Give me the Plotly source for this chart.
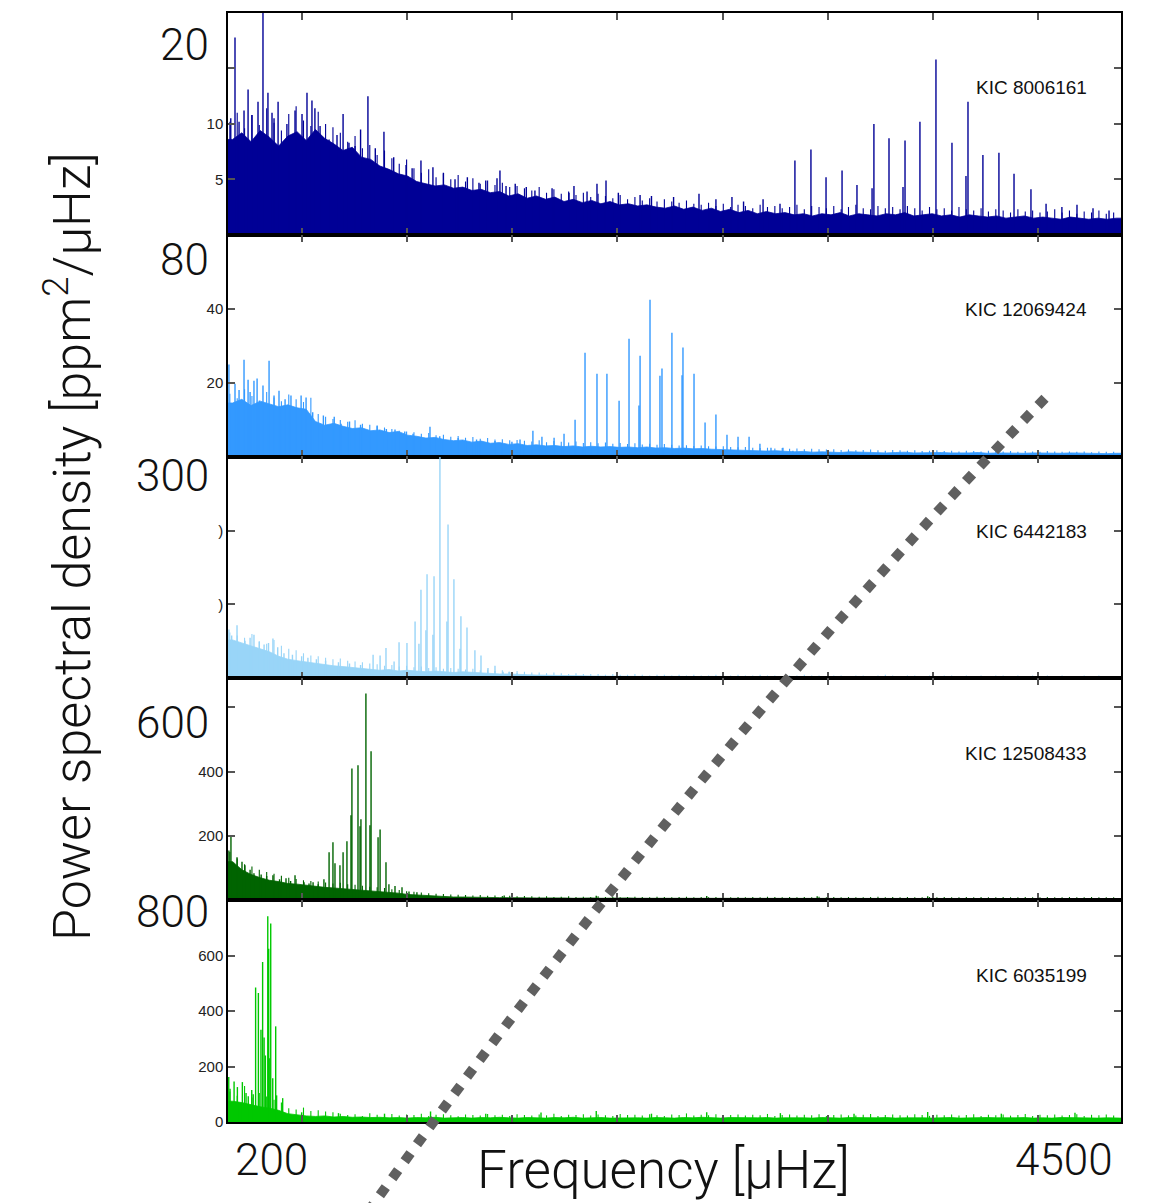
import plotly.graph_objects as go

# ---------------- data ----------------
F_MAX = 4850                   # µHz, right edge of the frequency axis
BIN_START, BIN_STEP = 25, 50   # smooth background sampled every 50 µHz
GRASS_START, GRASS_STEP = 10, 40  # noise spikes sampled every 40 µHz

star_names = ["KIC 8006161", "KIC 12069424", "KIC 6442183", "KIC 12508433", "KIC 6035199"]
colors = ["#000096", "#3399FF", "#99D5F8", "#006400", "#00C800"]
y_max = [20, 60, 300, 690, 800]
y_tickvals = [[5, 10], [20, 40], [100, 200], [200, 400], [0, 200, 400, 600]]
y_ticktext = [["5", "10"], ["20", "40"], [")", ")"], ["200", "400"], ["0", "200", "400", "600"]]
y_extra_ticks = [[15], [], [], [600], []]
big_labels = ["20", "80", "300", "600", "800"]
x_labels = [200, 4500]

bg_8006161 = [8.6, 9.2, 8.4, 9.4, 8.8, 8.0, 8.9, 9.3, 8.5, 9.5, 8.7, 8.2, 7.6, 7.9, 7.0, 6.8, 6.2, 5.9, 5.5, 5.3,
              4.8, 4.6, 4.4, 4.5, 4.2, 4.3, 4.0, 4.1, 3.8, 3.9, 3.5, 3.7, 3.3, 3.5, 3.2, 3.4, 3.0, 3.2, 2.9, 3.1,
              2.8, 3.0, 2.7, 2.8, 2.6, 2.7, 2.5, 2.4, 2.6, 2.3, 2.5, 2.2, 2.4, 2.1, 2.3, 2.0, 2.2, 1.9, 2.1, 1.9,
              2.0, 1.8, 1.9, 1.7, 1.9, 1.8, 2.0, 1.7, 1.9, 1.8, 1.7, 1.9, 1.8, 2.0, 1.7, 1.8, 1.9, 1.7, 1.8, 1.6,
              1.8, 1.7, 1.6, 1.7, 1.5, 1.6, 1.7, 1.5, 1.6, 1.5, 1.4, 1.6, 1.5, 1.4, 1.5, 1.4, 1.5]
bg_12069424 = [14.5, 15.5, 13.8, 15.0, 14.2, 13.5, 14.0, 13.2, 12.8, 9.5, 8.5, 9.0, 8.2, 7.6, 7.8, 7.0, 7.2, 6.5, 6.8, 5.8,
               5.5, 5.0, 5.2, 4.6, 4.3, 4.5, 3.9, 4.2, 3.6, 3.8, 3.3, 3.5, 3.0, 3.2, 2.9, 3.0, 2.7, 2.9, 2.6, 2.8,
               2.6, 2.7, 2.5, 2.6, 2.4, 2.6, 2.3, 2.4, 2.2, 2.3, 2.1, 2.2, 2.0, 1.9, 1.8, 1.9, 1.7, 1.6, 1.5, 1.6,
               1.4, 1.3, 1.4, 1.2, 1.3, 1.2, 1.1, 1.3, 1.2, 1.1, 1.2, 1.0, 1.1, 1.2, 1.0, 1.1, 1.0, 1.1, 1.0, 0.9,
               1.0, 1.1, 0.9, 1.0, 0.9, 1.0, 0.9, 1.0, 0.9, 0.8, 0.9, 1.0, 0.9, 0.8, 0.9, 0.8, 0.9]
bg_6442183 = [52, 48, 44, 40, 36, 30, 26, 24, 22, 20, 19, 17, 16, 15, 13, 12, 11, 12, 10, 11,
              10, 9, 10, 9, 8, 9, 8, 7, 7, 6, 6, 5, 5, 4.5, 4.5, 4, 4, 3.5, 3.5, 3.2,
              3.0, 3.0, 2.8, 3.0, 2.7, 2.8, 2.6, 2.8, 2.5, 2.7, 2.6, 2.5, 2.7, 2.4, 2.6, 2.5, 2.4, 2.6, 2.3, 2.5,
              2.4, 2.3, 2.5, 2.2, 2.4, 2.3, 2.2, 2.4, 2.2, 2.3, 2.1, 2.3, 2.2, 2.1, 2.3, 2.0, 2.2, 2.1, 2.0, 2.2,
              2.1, 2.0, 2.1, 2.2, 2.0, 2.1, 1.9, 2.1, 2.0, 1.9, 2.1, 2.0, 1.9, 2.0, 2.1, 1.9, 2.0]
bg_12508433 = [120, 95, 80, 70, 62, 58, 52, 50, 46, 42, 40, 38, 36, 34, 32, 30, 28, 26, 22, 18,
               16, 14, 12, 11, 10, 10, 9, 9, 8, 8, 8, 7, 8, 7, 7, 8, 7, 6, 7, 7,
               6, 7, 6, 7, 6, 6, 7, 6, 6, 7, 6, 6, 7, 6, 5, 6, 6, 7, 6, 5,
               6, 6, 5, 6, 6, 5, 6, 7, 5, 6, 5, 6, 6, 5, 6, 5, 6, 6, 5, 5,
               6, 5, 6, 5, 5, 6, 5, 5, 6, 5, 5, 6, 5, 5, 6, 5, 5]
bg_6035199 = [75, 70, 62, 55, 50, 42, 30, 25, 22, 20, 22, 18, 20, 17, 18, 16, 17, 15, 16, 14,
              16, 15, 17, 14, 15, 16, 14, 16, 15, 17, 15, 14, 16, 15, 14, 16, 15, 17, 14, 15,
              16, 14, 15, 16, 15, 14, 16, 15, 14, 16, 15, 17, 15, 14, 16, 15, 14, 15, 16, 14,
              15, 16, 15, 14, 16, 15, 14, 16, 15, 14, 15, 16, 14, 15, 16, 15, 14, 15, 16, 14,
              15, 14, 16, 15, 14, 15, 16, 14, 15, 14, 16, 15, 14, 15, 14, 15, 14]

# dense noise spikes ("grass"), one every 40 µHz
grass_8006161 = [10.2, 11.0, 9.6, 10.8, 9.9, 11.4, 10.1, 9.4, 10.9, 11.6, 10.3, 9.8, 11.1, 10.0, 9.7,
                 9.2, 8.4, 8.9, 7.8, 8.1, 7.2, 7.6, 6.9, 6.4, 6.8,
                 6.0, 5.6, 5.9, 5.2, 5.5, 5.0, 5.4, 4.8, 5.1, 4.6, 4.9, 4.5, 4.7, 4.3, 4.4,
                 4.2, 4.0, 4.3, 3.8, 4.1, 3.7, 3.9, 3.6, 3.8, 3.4, 3.7, 3.5, 3.3, 3.6, 3.2, 3.4, 3.1, 3.3, 3.0, 3.2,
                 3.0, 2.9, 3.1, 2.8, 2.7, 2.9, 2.6, 2.8, 2.5, 2.7, 2.6, 2.4, 2.7, 2.5, 2.6, 2.4, 2.5, 2.7, 2.3, 2.6,
                 2.5, 2.4, 2.6, 2.3, 2.5, 2.7, 2.4, 2.3, 2.6, 2.4, 2.5, 2.3, 2.6, 2.4, 2.2, 2.5, 2.3, 2.4, 2.2, 2.5,
                 2.3, 2.2, 2.4, 2.1, 2.3, 2.2, 2.0, 2.3, 2.1, 2.2, 2.0, 2.1, 2.3, 2.0, 2.2, 1.9, 2.1, 2.0, 2.2, 1.9, 2.0]
grass_12069424 = [17.0, 15.8, 18.2, 16.4, 15.2, 17.5, 16.0, 15.0, 16.8, 15.5, 14.8, 15.9,
                  11.5, 10.8, 10.2, 9.9, 9.4, 9.8, 8.9, 8.6, 8.2, 7.9, 7.5, 7.0, 6.8,
                  6.6, 6.2, 6.4, 5.8, 5.9, 5.4, 5.6, 5.1, 5.3, 4.8, 5.0, 4.6, 4.7, 4.4, 4.5,
                  4.3, 4.1, 4.4, 3.9, 4.2, 4.0, 3.8, 4.1, 3.7, 3.9, 3.6, 3.8, 3.5, 3.7, 3.4, 3.6, 3.3, 3.5, 3.2, 3.4,
                  3.2, 3.0, 3.1, 2.9, 3.0, 2.8, 2.7, 2.8, 2.6, 2.5, 2.6, 2.4, 2.3, 2.4, 2.2, 2.3, 2.1, 2.2, 2.0, 2.1,
                  2.0, 1.9, 2.0, 1.8, 1.9, 1.7, 1.8, 1.9, 1.7, 1.6, 1.8, 1.7, 1.6, 1.7, 1.5, 1.6, 1.7, 1.5, 1.6, 1.4,
                  1.6, 1.5, 1.4, 1.6, 1.5, 1.4, 1.5, 1.3, 1.5, 1.4, 1.3, 1.5, 1.4, 1.3, 1.4, 1.3, 1.4, 1.2, 1.4, 1.3, 1.3]
grass_6442183 = [62, 58, 55, 60, 50, 47, 52, 44, 40, 38,
                 34, 31, 30, 28, 26, 27, 24, 23, 22, 20,
                 19, 17, 18, 16, 17, 15, 16, 14, 15, 13,
                 14, 13, 12, 13, 11, 12, 10, 11, 9, 10,
                 9, 8, 8, 7, 8, 7, 6, 7, 6, 6,
                 6, 5, 6, 5, 5, 6, 5, 4, 5, 5, 4, 5, 4, 5, 4, 4, 5, 4, 4, 5,
                 4, 4, 5, 4, 4, 3, 4, 4, 5, 4, 4, 3, 4, 4, 3, 4, 4, 3, 4, 5,
                 4, 3, 4, 4, 3, 4, 3, 4, 4, 3, 4, 3, 4, 3, 4, 4, 3, 4, 3, 4,
                 3, 4, 3, 4, 3, 3, 4, 3, 4, 3, 3]
grass_12508433 = [150, 130, 112, 105, 95, 88, 82, 76, 70, 66,
                  62, 60, 58, 55, 52, 54, 50, 48, 45, 42,
                  40, 38, 34, 32, 28, 26, 24, 22, 20, 19,
                  18, 17, 16, 15, 16, 14, 15, 13, 14, 12,
                  13, 12, 11, 12, 10, 11, 12, 10, 11, 10, 12, 10, 11, 9, 10, 11, 10, 9, 11, 10,
                  9, 10, 11, 9, 10, 9, 10, 11, 9, 10, 9, 10, 9, 11, 10, 9, 10, 9, 10, 9,
                  11, 9, 10, 9, 10, 9, 9, 10, 11, 9, 10, 9, 10, 9, 9, 10, 9, 10, 9, 9,
                  10, 9, 10, 9, 9, 10, 9, 9, 10, 9, 9, 10, 9, 9, 10, 9, 9, 10, 9, 9, 9]
grass_6035199 = [110, 95, 130, 88, 105, 92, 80, 70,
                 50, 45, 52, 40, 42, 38, 35,
                 30, 25, 28, 22, 32, 26, 24, 29, 23, 27, 25, 30, 22, 26, 28, 24, 21, 27, 25, 23,
                 29, 24, 26, 22, 28, 25, 23, 27, 24, 30, 22, 26, 25, 28, 23, 27, 24, 22, 29, 25,
                 26, 23, 28, 24, 22, 27, 25, 31, 23, 26, 24, 28, 22, 25, 27, 23, 26, 24, 29, 22,
                 25, 27, 23, 26, 24, 28, 22, 25, 27, 24, 23, 26, 29, 22, 25, 27, 24, 23, 28, 25,
                 22, 26, 24, 27, 23, 25, 28, 22, 26, 24, 27, 23, 25, 29, 22, 26, 24, 27, 23, 25,
                 28, 22, 26, 24, 27, 23]

# individual peaks / tall noise spikes: (frequency µHz, power)
spk_8006161 = [(15, 10.5), (38, 17.8), (60, 10.2), (87, 11.2), (109, 13.1), (130, 10.8), (163, 12.0), (190, 22),
               (217, 12.8), (239, 11.0), (250, 10.5), (272, 12.0), (320, 10.0), (364, 11.2), (402, 10.9),
               (429, 12.8), (456, 12.1), (472, 11.4), (500, 9.8), (549, 8.6), (592, 9.0), (625, 10.9),
               (657, 8.3), (690, 8.0), (720, 9.5), (760, 12.5), (800, 7.8), (847, 9.3), (900, 7.0),
               (967, 6.3), (1000, 6.0), (1048, 6.7), (1113, 6.1), (1170, 5.6), (1233, 5.0), (1300, 5.2),
               (1363, 4.7), (1400, 4.9), (1461, 5.1), (1477, 5.8), (1510, 4.4), (1560, 4.6), (1620, 4.3),
               (1667, 4.0), (1760, 4.2), (1852, 3.8), (1879, 4.4), (1950, 3.9), (2004, 4.6), (2053, 4.9),
               (2120, 3.8), (2238, 3.6), (2300, 3.5), (2420, 3.4), (2558, 3.7), (2650, 3.2), (2737, 3.4),
               (2800, 3.0), (2906, 3.2), (2998, 2.8),
               (3079, 6.7), (3166, 7.7), (3248, 5.2), (3335, 5.8), (3416, 4.5), (3498, 4.2), (3508, 10.0),
               (3590, 8.7), (3666, 4.3), (3677, 8.5), (3758, 10.2), (3845, 15.8), (3932, 8.3), (4008, 5.3),
               (4019, 12.0), (4100, 7.2), (4187, 7.4), (4269, 5.5), (4361, 4.1), (4443, 2.8), (4529, 2.5),
               (4611, 2.7), (4698, 2.4), (4785, 2.2)]
spk_12069424 = [(5, 24.9), (38, 19.7), (60, 18.0), (87, 26.2), (109, 20.8), (120, 17.5), (141, 20.5), (158, 21.1),
                (190, 19.2), (223, 25.9), (250, 16.5), (277, 17.8), (310, 15.5), (342, 16.5), (397, 16.5),
                (424, 16.0), (460, 12.0), (518, 11.1), (577, 10.8), (614, 8.9), (660, 9.5), (720, 8.6),
                (810, 8.4), (860, 7.5), (907, 7.3), (960, 6.8), (1005, 6.2), (1097, 8.1), (1150, 5.5),
                (1250, 5.0), (1350, 4.6), (1450, 4.2), (1542, 4.0),
                (1586, 4.6), (1656, 7.0), (1705, 5.4), (1771, 5.1), (1825, 6.2), (1885, 10.0), (1939, 28.1),
                (2004, 22.4), (2058, 22.4), (2124, 15.1), (2178, 31.9), (2232, 13.8), (2238, 27.3),
                (2292, 42.4), (2346, 21.9), (2357, 23.8), (2411, 33.5), (2466, 22.0), (2471, 29.5),
                (2531, 22.4), (2591, 9.2), (2650, 11.4), (2710, 5.9), (2770, 5.4), (2830, 5.4), (2889, 3.5),
                (2949, 2.4), (3014, 2.4), (3068, 1.6)]
spk_6442183 = [(5, 66), (20, 58), (49, 72), (92, 51), (120, 55), (141, 59), (170, 50), (196, 46), (220, 48),
               (244, 54), (270, 42), (304, 34), (350, 32), (400, 30), (434, 28), (480, 26), (530, 24),
               (600, 22), (660, 20), (720, 18), (788, 32), (826, 31), (858, 41), (902, 23), (929, 49),
               (972, 48), (1016, 77), (1037, 47), (1048, 120), (1075, 65), (1081, 141), (1113, 59),
               (1119, 138), (1151, 320), (1189, 77), (1195, 208), (1227, 134), (1260, 40), (1265, 84),
               (1298, 69), (1341, 38), (1374, 31), (1412, 14), (1450, 17), (1494, 9), (1526, 9), (1570, 7)]
spk_12508433 = [(5, 155), (16, 199), (49, 134), (76, 120), (92, 109), (120, 95), (141, 84), (180, 80), (210, 75),
                (244, 78), (280, 65), (315, 68), (340, 60), (364, 78), (413, 56), (440, 52), (462, 56),
                (490, 50), (521, 65), (549, 149), (570, 180), (581, 115), (608, 109), (625, 149), (646, 183),
                (668, 264), (673, 410), (706, 420), (717, 230), (722, 252), (749, 643), (771, 233), (777, 463),
                (815, 196), (826, 220), (858, 118), (874, 50), (907, 44), (945, 40), (983, 27), (1026, 25),
                (1500, 15), (2000, 14), (2600, 13), (3200, 12), (3800, 12), (4400, 11)]
spk_6035199 = [(4, 162), (11, 120), (33, 146), (51, 126), (78, 144), (98, 105), (110, 93), (129, 115), (137, 100),
               (150, 485), (165, 465), (179, 333), (188, 577), (196, 305), (203, 240), (216, 742), (221, 625),
               (224, 230), (232, 716), (243, 158), (259, 345), (264, 96), (297, 86),
               (400, 35), (600, 32), (850, 30), (1100, 38), (1400, 30), (1700, 34), (2000, 40), (2300, 30),
               (2600, 35), (3000, 32), (3400, 30), (3800, 36), (4200, 30), (4600, 33)]

backgrounds = [bg_8006161, bg_12069424, bg_6442183, bg_12508433, bg_6035199]
grasses = [grass_8006161, grass_12069424, grass_6442183, grass_12508433, grass_6035199]
spikes = [spk_8006161, spk_12069424, spk_6442183, spk_12508433, spk_6035199]

# ---------------- layout geometry (pixels) ----------------
W, H = 1152, 1203
L, R, T, B = 228, 31, 11, 81
PW, PH = W - L - R, H - T - B


def px(x):
    return (x - L) / PW


def py(y):
    return (H - B - y) / PH


big_label_y = [43, 258, 475, 722, 912]
name_label_y = [86, 308, 530, 753, 975]

fig = go.Figure()
n = len(star_names)


def vlines(fs, ps):
    xs, ys = [], []
    for f, p in zip(fs, ps):
        xs += [f, f, None]
        ys += [0, p, None]
    return xs, ys


for k in range(n):
    ax = "" if k == 0 else str(k + 1)
    bg = backgrounds[k]
    fx = [BIN_START + BIN_STEP * i for i in range(len(bg))]
    fx = [0] + fx + [F_MAX]
    fy = [bg[0]] + bg + [bg[-1]]
    fig.add_trace(go.Scatter(x=fx, y=fy, mode="lines", fill="tozeroy",
                             line=dict(color=colors[k], width=0.8), fillcolor=colors[k],
                             xaxis="x" + ax, yaxis="y" + ax, showlegend=False, hoverinfo="skip"))
    gr = grasses[k]
    gx, gy = vlines([GRASS_START + GRASS_STEP * i for i in range(len(gr))], gr)
    fig.add_trace(go.Scatter(x=gx, y=gy, mode="lines", line=dict(color=colors[k], width=1.1),
                             xaxis="x" + ax, yaxis="y" + ax, showlegend=False, hoverinfo="skip"))
    sx, sy = vlines([s[0] for s in spikes[k]], [s[1] for s in spikes[k]])
    fig.add_trace(go.Scatter(x=sx, y=sy, mode="lines", line=dict(color=colors[k], width=1.4),
                             xaxis="x" + ax, yaxis="y" + ax, showlegend=False, hoverinfo="skip"))

    d0, d1 = 1 - (k + 1) / n, 1 - k / n
    axis_common = dict(showline=True, linecolor="black", linewidth=1.5, mirror="allticks",
                       ticks="inside", tickcolor="#555555", tickwidth=1.5, ticklen=7,
                       showgrid=False, zeroline=False)
    fig.layout["xaxis" + ax] = dict(domain=[0, 1], anchor="y" + ax, range=[0, F_MAX],
                                    tickmode="linear", tick0=402, dtick=571,
                                    showticklabels=False, **axis_common)
    yax = dict(domain=[d0, d1], anchor="x" + ax, range=[0, y_max[k]],
               tickmode="array", tickvals=y_tickvals[k], ticktext=y_ticktext[k],
               tickfont=dict(family="Liberation Sans, Arial", size=15, color="#222"),
               **axis_common)
    if y_extra_ticks[k]:
        yax["minor"] = dict(tickmode="array", tickvals=y_extra_ticks[k], ticks="inside",
                            ticklen=7, tickwidth=1.5, tickcolor="#555555", showgrid=False)
    fig.layout["yaxis" + ax] = yax
    fig.add_annotation(text=star_names[k], xref="paper", yref="paper",
                       x=px(1089), y=py(name_label_y[k]),
                       xanchor="right", yanchor="middle", showarrow=False,
                       font=dict(family="Liberation Sans, Arial", size=19, color="#111"))
    fig.add_annotation(text=big_labels[k], xref="paper", yref="paper",
                       x=px(211), y=py(big_label_y[k]),
                       xanchor="right", yanchor="middle", showarrow=False,
                       font=dict(family="Roboto", size=44, color="#111", weight=300))

last = str(n)
for v in x_labels:
    fig.add_annotation(text=str(v), xref="x" + last, yref="paper", x=v, y=py(1160), xshift=7,
                       xanchor="center", yanchor="middle", showarrow=False,
                       font=dict(family="Roboto", size=44, color="#111", weight=300))

fig.add_annotation(text="Frequency [μHz]", xref="paper", yref="paper", x=px(663), y=py(1170),
                   xanchor="center", yanchor="middle", showarrow=False,
                   font=dict(family="Roboto", size=53, color="#111", weight=300))
fig.add_annotation(text="Power spectral density [ppm<sup>2</sup>/μHz]", xref="paper", yref="paper",
                   x=px(68), y=py(546), textangle=-90,
                   xanchor="center", yanchor="middle", showarrow=False,
                   font=dict(family="Roboto", size=52, color="#111", weight=300))

# dotted trend line (decoration, slightly curved)
p0 = (px(1045), py(397))
pc = (px(688), py(765))
p1 = (px(368), py(1212))
fig.add_shape(type="path", xref="paper", yref="paper", layer="above",
              path=f"M {p0[0]},{p0[1]} Q {pc[0]},{pc[1]} {p1[0]},{p1[1]}",
              line=dict(color="#606060", width=10, dash="10px,11px"))

fig.update_layout(width=W, height=H, margin=dict(l=L, r=R, t=T, b=B),
                  paper_bgcolor="white", plot_bgcolor="white", showlegend=False)
fig.write_html("out.html")
